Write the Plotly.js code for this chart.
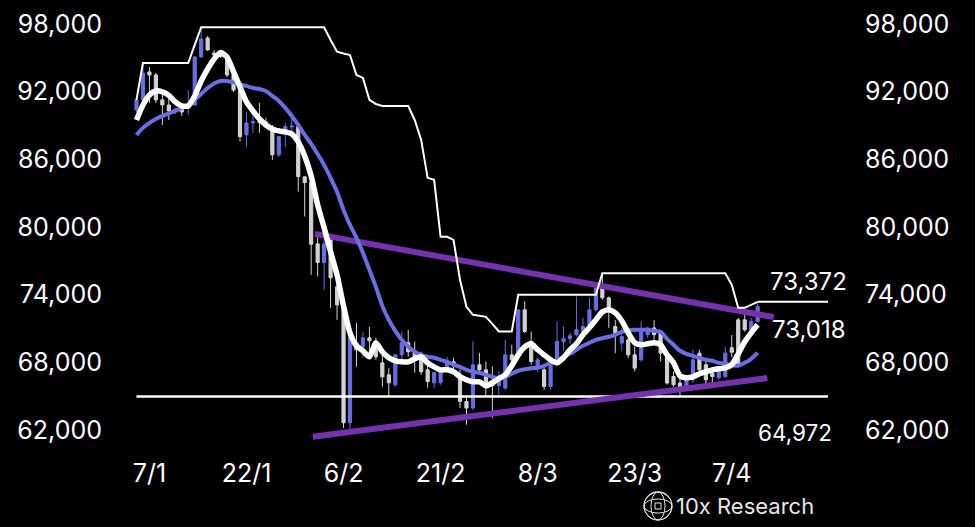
<!DOCTYPE html>
<html>
<head>
<meta charset="utf-8">
<script src="https://cdn.plot.ly/plotly-3.0.1.min.js"></script>
<style>
  html, body { margin: 0; padding: 0; background: #000; }
  #chart { width: 975px; height: 527px; }
</style>
</head>
<body>
<div id="chart"></div>
<script>
// ---------- DATA ----------
const dates = [
 '2025-01-05','2025-01-06','2025-01-07','2025-01-08','2025-01-09','2025-01-10','2025-01-11','2025-01-12','2025-01-13','2025-01-14',
 '2025-01-15','2025-01-16','2025-01-17','2025-01-18','2025-01-19','2025-01-20','2025-01-21','2025-01-22','2025-01-23','2025-01-24',
 '2025-01-25','2025-01-26','2025-01-27','2025-01-28','2025-01-29','2025-01-30','2025-01-31',
 '2025-02-01','2025-02-02','2025-02-03','2025-02-04','2025-02-05','2025-02-06','2025-02-07','2025-02-08','2025-02-09','2025-02-10',
 '2025-02-11','2025-02-12','2025-02-13','2025-02-14','2025-02-15','2025-02-16','2025-02-17','2025-02-18','2025-02-19','2025-02-20',
 '2025-02-21','2025-02-22','2025-02-23','2025-02-24','2025-02-25','2025-02-26','2025-02-27','2025-02-28',
 '2025-03-01','2025-03-02','2025-03-03','2025-03-04','2025-03-05','2025-03-06','2025-03-07','2025-03-08','2025-03-09','2025-03-10',
 '2025-03-11','2025-03-12','2025-03-13','2025-03-14','2025-03-15','2025-03-16','2025-03-17','2025-03-18','2025-03-19','2025-03-20',
 '2025-03-21','2025-03-22','2025-03-23','2025-03-24','2025-03-25','2025-03-26','2025-03-27','2025-03-28','2025-03-29','2025-03-30','2025-03-31',
 '2025-04-01','2025-04-02','2025-04-03','2025-04-04','2025-04-05','2025-04-06','2025-04-07','2025-04-08','2025-04-09','2025-04-10','2025-04-11'
];

const openP = [
 90380,91270,93750,93480,91270,90820,90290,90470,90730,90820,
 95080,96760,95430,95250,95080,93480,92590,88170,89230,89340,
 89320,88610,86400,88460,88870,88900,84450,
 83940,78510,76850,79040,74700,72840,62650,69740,69380,70180,
 69740,67960,66900,66010,68670,69740,68940,68500,67340,66190,
 66190,67340,68050,66750,64540,63950,67790,67340,
 66370,65930,65720,68670,68670,72660,69850,67640,67340,65860,
 68230,69850,70090,70450,70740,71180,72660,74610,73720,71180,
 69710,70000,68670,68230,70450,71060,70740,68670,66750,66170,65860,
 66460,68820,67790,67050,66640,66750,69300,71770,71770,70890,71620
];
const highP = [
 91450,94540,94190,93660,91710,91530,90560,90650,92150,95160,
 97710,96940,95700,95520,95250,93570,92770,90230,90230,91000,
 89670,89050,86750,89230,89940,89050,84470,
 84030,79150,79040,79130,74880,72950,71180,71510,70710,71150,
 70180,68670,67520,68670,70710,70890,69850,68940,67960,67170,
 67340,68500,68410,67340,64980,69850,68850,68080,
 67640,67250,70000,69560,72660,73400,70740,68410,67640,67960,
 71620,71180,70620,73840,71950,73720,74870,75910,73840,71770,
 71060,70450,69410,71620,71150,71770,70890,68820,67190,67050,66750,
 69120,69120,68230,67340,67520,69390,70420,71950,72210,71950,73230
];
const lowP = [
 90200,91180,91000,91000,89050,89490,90030,89850,89940,90730,
 94990,95610,95170,94990,93300,91970,87570,87100,88340,88340,
 88870,85950,86220,87100,88460,83140,80930,
 75760,75610,74430,72840,71770,62200,62030,67610,68410,68500,
 68230,65840,64950,65840,68050,68500,67080,66900,65750,65750,
 66020,67250,67170,63950,62470,63800,67080,64980,
 63060,65130,65570,67340,68580,70600,67790,67170,65570,65570,
 67940,68970,69650,70300,70620,71070,72510,73550,71060,68820,
 69030,68410,67190,68080,70180,69910,68080,66020,65860,65100,65720,
 66170,67190,65850,66020,66460,66610,68460,67610,70740,70750,71610
];
const closeP = [
 91270,93660,93480,91270,90820,90290,90470,90200,90990,95080,
 96670,95700,95250,95120,93480,92150,88010,89230,89340,89270,
 89230,86400,88010,88900,88960,84470,83940,
 78480,76850,78510,75500,73100,62650,70450,69120,70180,69910,
 68500,66720,66190,68670,69740,68940,68500,67170,66300,67110,
 67230,68050,67700,64540,63950,67790,67340,66170,
 65930,66720,68670,68230,72660,70740,68080,68230,65860,67790,
 69850,70090,70360,70890,71180,72660,74610,73730,72660,70450,
 70300,68670,67490,70740,71040,70450,68820,66170,66020,65720,66610,
 68230,67340,66460,66750,67250,68820,68900,67790,70890,71620,72940
];

// fast average (white)
const fastLine = [
 89490,90820,91710,92060,91980,91670,91090,90730,90730,91620,
 92950,94010,94900,95470,95080,93750,92420,91090,90290,89580,
 89050,88700,88520,88430,88250,87550,86300,
 84530,81960,79930,77800,75760,73010,70620,69470,69030,68500,
 69740,68940,68410,68140,68050,68050,68320,68500,67960,67610,
 67340,67340,67170,66750,66460,66280,66280,65930,
 66190,66550,66900,67700,68670,69380,69650,69120,68670,68230,
 67960,68410,69120,69650,70450,71070,71770,72480,72660,72390,
 71690,70620,69740,69560,69650,69740,69560,68670,67960,66810,66640,
 66720,66990,67170,67340,67430,67520,67790,68760,69830,70620,71330
];
// slow average (blue)
const slowLine = [
 88170,88790,89230,89580,89850,90070,90290,90560,90820,91270,
 91800,92330,92730,92950,92950,92820,92640,92510,92330,92240,
 92060,91620,91180,90560,89850,89050,88170,
 87370,86480,85510,84360,83120,81520,80190,79040,77710,76200,
 74700,73010,71770,70800,70000,69380,68940,68670,68500,68410,
 68230,68050,67790,67610,67340,67170,67080,66900,
 66720,66640,66720,66990,67260,67390,67480,67520,67700,67960,
 68140,68500,68760,69120,69470,69740,70000,70140,70270,70450,
 70710,70840,70890,70890,70890,70800,70710,70090,69560,69030,68760,
 68580,68410,68230,68140,67960,67880,67740,67700,67960,68320,68850
];
// rolling high (thin white step line)
const rollingHigh = [
 91270,94540,94540,94540,94540,94540,94540,94540,94540,96140,
 97710,97710,97710,97710,97710,97710,97710,97710,97710,97710,
 97710,97710,97710,97710,97710,97710,97710,
 97710,97710,97710,96580,95550,95390,95250,93480,93220,91270,
 90910,90730,90730,90730,90730,90730,89490,87720,84360,84180,
 79130,79130,78860,75320,72930,72220,72130,72040,
 71420,70740,70740,70740,73990,73990,73990,73990,73990,73990,
 73990,73990,73990,73990,73990,73990,73990,75910,75910,75910,
 75910,75910,75910,75910,75910,75910,75910,75910,75910,75910,75910,
 75910,75910,75910,75910,75910,75910,74880,72840,72840,73100,73370
];

// trendlines and reference levels
const upperTrendX = ['2025-02-01 14:00', '2025-04-13 12:00'];
const upperTrendY = [79390, 72010];
const lowerTrendX = ['2025-02-01 06:00', '2025-04-12 12:00'];
const lowerTrendY = [61410, 66610];
const supportX = ['2025-01-05', '2025-04-21 21:00'];
const supportLevel = 64972;
const lastHighX = ['2025-04-11', '2025-04-21 21:00'];
const lastHighLevel = 73372;
const lastCloseLabel = 73018;

const tickDates = ['2025-01-07','2025-01-22','2025-02-06','2025-02-21','2025-03-08','2025-03-23','2025-04-07'];
const tickLabels = ['7/1','22/1','6/2','21/2','8/3','23/3','7/4'];
const yTicks = [62000, 68000, 74000, 80000, 86000, 92000, 98000];

// ---------- CHART ----------
const FONT = 'Inter, "Open Sans", sans-serif';
const BLUE = '#6a6ee0';
const GREY = '#d2d2d2';
const PURPLE = '#7433ad';

const traces = [
  {
    type: 'candlestick', x: dates, open: openP, high: highP, low: lowP, close: closeP,
    increasing: { line: { color: BLUE, width: 1 }, fillcolor: BLUE },
    decreasing: { line: { color: GREY, width: 1 }, fillcolor: GREY },
    whiskerwidth: 0, showlegend: false, hoverinfo: 'skip'
  },
  { type: 'scatter', mode: 'lines', x: supportX, y: [supportLevel, supportLevel],
    line: { color: '#ffffff', width: 2.5 }, showlegend: false, hoverinfo: 'skip' },
  { type: 'scatter', mode: 'lines', x: upperTrendX, y: upperTrendY,
    line: { color: PURPLE, width: 6 }, showlegend: false, hoverinfo: 'skip' },
  { type: 'scatter', mode: 'lines', x: lowerTrendX, y: lowerTrendY,
    line: { color: PURPLE, width: 6 }, showlegend: false, hoverinfo: 'skip' },
  { type: 'scatter', mode: 'lines', x: dates, y: rollingHigh,
    line: { color: '#ffffff', width: 2 }, showlegend: false, hoverinfo: 'skip' },
  { type: 'scatter', mode: 'lines', x: lastHighX, y: [lastHighLevel, lastHighLevel],
    line: { color: '#ffffff', width: 2 }, showlegend: false, hoverinfo: 'skip' },
  { type: 'scatter', mode: 'lines', x: dates, y: slowLine, line: { color: BLUE, width: 4, shape: 'spline', smoothing: 0.6 },
    showlegend: false, hoverinfo: 'skip' },
  { type: 'scatter', mode: 'lines', x: dates, y: fastLine, line: { color: '#ffffff', width: 5.5, shape: 'spline', smoothing: 0.6 },
    showlegend: false, hoverinfo: 'skip' },
  { type: 'scatter', mode: 'lines', x: supportX, y: [supportLevel, supportLevel], yaxis: 'y2',
    line: { color: 'rgba(0,0,0,0)', width: 0 }, showlegend: false, hoverinfo: 'skip' }
];

const L = 130, R = 130, T = 18, B = 80;
const plotW = 975 - L - R, plotH = 527 - T - B;
const px = v => (v - L) / plotW;
const py = v => (527 - B - v) / plotH;

const yRange = [60500, 98530];
const fmt = n => n.toLocaleString('en-US');

const layout = {
  width: 975, height: 527,
  paper_bgcolor: '#000000', plot_bgcolor: '#000000',
  margin: { l: L, r: R, t: T, b: B },
  showlegend: false,
  font: { family: FONT, color: '#ffffff' },
  xaxis: {
    type: 'date', range: ['2025-01-04', '2025-04-24 12:00'],
    tickvals: tickDates, ticktext: tickLabels,
    showgrid: false, zeroline: false, showline: false,
    ticks: 'outside', ticklen: 4, tickcolor: 'rgba(0,0,0,0)',
    tickfont: { family: FONT, size: 25, color: '#ffffff' },
    rangeslider: { visible: false }, fixedrange: true
  },
  yaxis: {
    range: yRange, tickvals: yTicks, ticktext: yTicks.map(fmt),
    showgrid: false, zeroline: false, showline: false,
    ticks: 'outside', ticklen: 22, tickcolor: 'rgba(0,0,0,0)',
    tickfont: { family: FONT, size: 25, color: '#ffffff' }, side: 'left'
  },
  yaxis2: {
    range: yRange, tickvals: yTicks, ticktext: yTicks.map(fmt),
    overlaying: 'y', side: 'right',
    showgrid: false, zeroline: false, showline: false,
    ticks: 'outside', ticklen: 14, tickcolor: 'rgba(0,0,0,0)',
    tickfont: { family: FONT, size: 25, color: '#ffffff' }
  },
  annotations: [
    { xref: 'paper', yref: 'y', x: px(768), y: 75140, text: fmt(lastHighLevel), showarrow: false,
      xanchor: 'left', yanchor: 'middle', font: { family: FONT, size: 24, color: '#ffffff' } },
    { xref: 'paper', yref: 'y', x: px(770), y: 70890, text: fmt(lastCloseLabel), showarrow: false,
      xanchor: 'left', yanchor: 'middle', font: { family: FONT, size: 24, color: '#ffffff' } },
    { xref: 'paper', yref: 'y', x: px(756), y: 61760, text: fmt(supportLevel), showarrow: false,
      xanchor: 'left', yanchor: 'middle', font: { family: FONT, size: 22.5, color: '#ffffff' } },
    { xref: 'paper', yref: 'paper', x: px(674), y: py(506), text: '10x Research', showarrow: false,
      xanchor: 'left', yanchor: 'middle', font: { family: FONT, size: 22, color: '#e6e6e6' } }
  ],
  shapes: [
    { type: 'circle', xref: 'paper', yref: 'paper', xsizemode: 'pixel', ysizemode: 'pixel',
      xanchor: px(658), yanchor: py(506), x0: -14, x1: 14, y0: -14, y1: 14, line: { color: '#e6e6e6', width: 1.3 } },
    { type: 'circle', xref: 'paper', yref: 'paper', xsizemode: 'pixel', ysizemode: 'pixel',
      xanchor: px(658), yanchor: py(506), x0: -7, x1: 7, y0: -14, y1: 14, line: { color: '#e6e6e6', width: 1 } },
    { type: 'circle', xref: 'paper', yref: 'paper', xsizemode: 'pixel', ysizemode: 'pixel',
      xanchor: px(658), yanchor: py(506), x0: -14, x1: 14, y0: -7, y1: 7, line: { color: '#e6e6e6', width: 1 } },
    { type: 'rect', xref: 'paper', yref: 'paper', xsizemode: 'pixel', ysizemode: 'pixel',
      xanchor: px(658), yanchor: py(506), x0: -3, x1: 3, y0: -3, y1: 3, line: { color: '#e6e6e6', width: 1 } }
  ]
};

Plotly.newPlot('chart', traces, layout, { staticPlot: true, displayModeBar: false });
</script>
</body>
</html>
